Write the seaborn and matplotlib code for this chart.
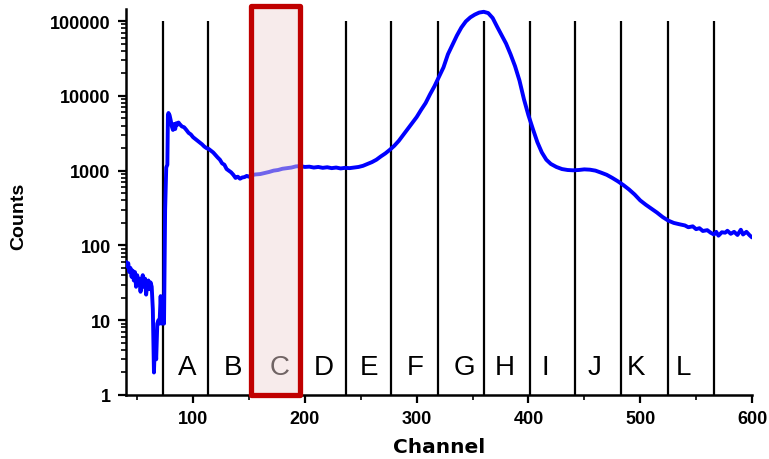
import matplotlib
matplotlib.use("Agg")
import matplotlib.pyplot as plt
from matplotlib.patches import Rectangle
from matplotlib.ticker import FixedLocator, FixedFormatter, LogLocator, NullFormatter, MultipleLocator
import seaborn as sns
import pandas as pd

# ---- data ----
channel = [40, 41, 42, 43, 44, 45, 46, 47, 48, 49, 50, 51, 52, 53, 54, 55, 56, 57, 58, 59,
           60, 61, 62, 63, 64, 65, 66, 67, 68, 69, 70, 71, 72, 73, 74, 75, 76, 77, 77.5, 78,
           79, 80, 81, 82, 83, 84, 85, 86, 87, 88, 90, 92, 94, 96, 98, 100, 102, 104, 106, 108,
           110, 112, 114, 116, 118, 120, 122, 124, 126, 128, 130, 132, 134, 136, 138, 140, 142, 144, 146, 148,
           150, 152, 156, 160, 164, 168, 172, 176, 180, 184, 188, 192, 196, 200, 204, 208, 212, 216, 220, 224,
           228, 232, 236, 240, 244, 248, 252, 256, 260, 264, 268, 272, 276, 280, 284, 288, 292, 296, 300, 304,
           308, 312, 316, 320, 324, 328, 332, 336, 340, 344, 348, 352, 356, 360, 364, 368, 372, 376, 380, 384,
           388, 392, 396, 400, 404, 408, 412, 416, 420, 425, 430, 435, 440, 445, 450, 455, 460, 465, 470, 475,
           480, 485, 490, 495, 500, 505, 510, 515, 520, 525, 530, 535, 540, 543, 547, 550, 553, 556, 560, 563,
           566, 568, 570, 573, 576, 578, 581, 584, 587, 590, 592, 595, 598, 600]
counts = [60, 52, 58, 44, 50, 38, 46, 34, 44, 28, 40, 30, 36, 24, 34, 40, 28, 36, 22, 30,
          34, 26, 32, 28, 14, 2, 6, 3, 9, 10, 9, 21, 9, 10, 9, 300, 1100, 1200, 5600, 5900,
          5500, 4700, 3900, 3500, 4200, 3600, 4300, 4100, 4400, 4200, 3900, 3800, 3500, 3200, 3050, 2800, 2650, 2500, 2380, 2250,
          2100, 2000, 1950, 1850, 1750, 1620, 1500, 1400, 1250, 1200, 1050, 1000, 950, 880, 800, 830, 780, 810, 820, 850,
          830, 870, 890, 900, 930, 960, 1000, 1020, 1060, 1080, 1100, 1140, 1150, 1120, 1130, 1100, 1120, 1090, 1110, 1080,
          1100, 1070, 1090, 1080, 1100, 1120, 1160, 1230, 1300, 1400, 1550, 1700, 1900, 2150, 2500, 3000, 3600, 4300, 5200, 6500,
          8000, 10500, 13500, 18000, 24000, 36000, 48000, 64000, 82000, 99000, 112000, 122000, 130000, 133000, 128000, 110000, 84000, 65000, 50000, 36000,
          25000, 16000, 9000, 5500, 3600, 2400, 1750, 1400, 1230, 1120, 1050, 1020, 1010, 1020, 1040, 1030, 1000, 940, 880, 800,
          720, 640, 560, 480, 400, 350, 310, 275, 240, 215, 200, 192, 185, 175, 180, 165, 170, 156, 160, 148,
          140, 152, 135, 150, 148, 157, 143, 152, 138, 162, 140, 152, 136, 128]

region_bounds = [73.5, 113, 153, 195.5, 237, 277.5, 319, 360.5, 401, 441.5, 483, 525, 566]
region_labels = ["A", "B", "C", "D", "E", "F", "G", "H", "I", "J", "K", "L"]
label_x = [95, 136, 177, 216.6, 257.7, 298.9, 342.5, 379, 415, 459, 496.5, 538.8]
highlight = (152, 195.5)

x_ticks = [100, 200, 300, 400, 500, 600]
y_ticks = [1, 10, 100, 1000, 10000, 100000]
y_tick_labels = ["1", "10", "100", "1000", "10000", "100000"]

df = pd.DataFrame({"Channel": channel, "Counts": counts})

sns.set_style("ticks")
plt.rcParams["font.family"] = ["Liberation Sans", "DejaVu Sans"]
plt.rcParams["text.color"] = "black"
plt.rcParams["axes.labelcolor"] = "black"

fig = plt.figure(figsize=(7.69, 4.60), dpi=100)
ax = fig.add_axes([126/769, 1-396/460, (752-126)/769, (396-10)/460])

sns.lineplot(data=df, x="Channel", y="Counts", ax=ax, color="#0000FF",
             linewidth=2.8, estimator=None, zorder=3)

ax.set_yscale("log")
ax.set_xlim(40, 600)
ax.set_ylim(1, 145000)

ax.vlines(region_bounds, 1, 100000, color="black", linewidth=1.6, zorder=2)

for lx, lab in zip(label_x, region_labels):
    ax.text(lx, 2.37, lab, ha="center", va="center", fontsize=20, color="black", zorder=4)

rect = Rectangle((highlight[0], 1), highlight[1]-highlight[0], 161000-1,
                 facecolor=(240/255, 214/255, 214/255, 0.47), edgecolor="#C00000",
                 linewidth=3.8, joinstyle="round", clip_on=False, zorder=5)
ax.add_patch(rect)

ax.yaxis.set_major_locator(FixedLocator(y_ticks))
ax.yaxis.set_major_formatter(FixedFormatter(y_tick_labels))
ax.yaxis.set_minor_locator(LogLocator(base=10, subs=range(2, 10)))
ax.yaxis.set_minor_formatter(NullFormatter())
ax.xaxis.set_major_locator(FixedLocator(x_ticks))
ax.xaxis.set_minor_locator(MultipleLocator(50))

for s in ["top", "right"]:
    ax.spines[s].set_visible(False)
for s in ["left", "bottom"]:
    ax.spines[s].set_linewidth(1.8)
    ax.spines[s].set_color("black")

ax.tick_params(axis="both", which="major", length=6, width=1.6, direction="out",
               labelsize=13, colors="black", pad=5)
ax.tick_params(axis="both", which="minor", length=3.5, width=1.2, direction="out", colors="black")
for t in ax.get_xticklabels() + ax.get_yticklabels():
    t.set_fontweight("bold")

ax.set_xlabel("Channel", fontsize=14.5, fontweight="bold", family=["DejaVu Sans"], color="black")
ax.set_ylabel("Counts", fontsize=14, fontweight="bold", color="black")
ax.xaxis.set_label_coords(0.5, -0.1088)
ax.yaxis.set_label_coords(-0.158, 0.466)

fig.savefig("out.png", dpi=100)
